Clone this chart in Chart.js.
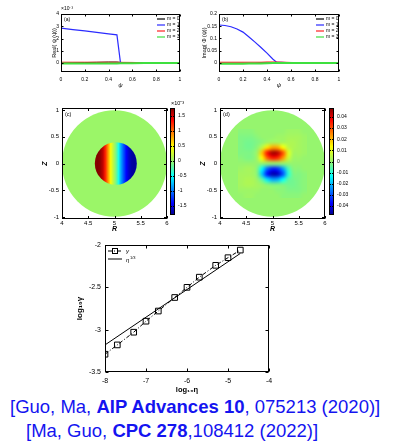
<!DOCTYPE html>
<html>
<head>
<meta charset="utf-8">
<script src="https://cdn.jsdelivr.net/npm/chart.js@4.4.1/dist/chart.umd.min.js"></script>
<style>
body { margin: 0; width: 396px; height: 444px; background: #fff; position: relative; overflow: hidden; font-family: 'Liberation Sans', Arial, sans-serif; }
canvas { position: absolute; }
.ref { position: absolute; color: #1414f0; font-size: 18.5px; white-space: nowrap; }
</style>
</head>
<body>
<canvas id="pa"></canvas>
<canvas id="pb"></canvas>
<canvas id="pc"></canvas>
<canvas id="cbc"></canvas>
<canvas id="pd"></canvas>
<canvas id="cbd"></canvas>
<canvas id="pe"></canvas>
<div class="ref" style="left:10px;top:396px">[Guo, Ma, <b>AIP Advances 10</b>, 075213 (2020)]</div>
<div class="ref" style="left:26px;top:420px">[Ma, Guo, <b>CPC 278</b>,108412 (2022)]</div>
<script>
// ---- data ----
// (a) Real part, units of 1e-3
let psiA = [0, 0.1, 0.2, 0.3, 0.4, 0.47, 0.5, 0.6, 0.7, 0.8, 0.9, 1];
let reM0 = [0, 0.02, 0.04, 0.06, 0.08, 0.08, 0.05, 0.01, 0, 0, 0, 0];
let reM1 = [2.85, 2.73, 2.62, 2.5, 2.38, 2.3, 0.02, 0, 0, 0, 0, 0];
let reM2 = [0.07, 0.07, 0.07, 0.07, 0.07, 0.07, 0.06, 0.05, 0.03, 0.01, 0, 0];
let reM3 = [-0.04, -0.04, -0.04, -0.04, -0.03, -0.03, -0.02, -0.01, 0, 0, 0, 0];

// (b) Imag part
let psiB = [0, 0.05, 0.1, 0.15, 0.2, 0.25, 0.3, 0.35, 0.4, 0.45, 0.48, 0.6, 0.7, 0.8, 0.9, 1];
let imM0 = [-0.001, -0.001, -0.001, -0.001, -0.001, -0.001, -0.001, 0, 0, 0, 0, 0, 0, 0, 0, 0];
let imM1 = [0.155, 0.153, 0.148, 0.139, 0.126, 0.106, 0.085, 0.063, 0.04, 0.015, 0.003, 0, 0, 0, 0, 0];
let imM2 = [0.003, 0.003, 0.003, 0.003, 0.003, 0.003, 0.003, 0.003, 0.004, 0.004, 0.004, 0.002, 0.001, 0, 0, 0];
let imM3 = [-0.003, -0.003, -0.003, -0.003, -0.003, -0.002, -0.002, -0.002, -0.001, 0, 0, 0, 0, 0, 0, 0];

let psiTicks = [0, 0.2, 0.4, 0.6, 0.8, 1];
let reTicks = [0, 1, 2, 3, 4];
let imTicks = [0, 0.05, 0.1, 0.15, 0.2];

// (c) inner-disk profile across R (units of 1e-3)
let cR = [4.625, 4.675, 4.725, 4.775, 4.825, 4.875, 4.925, 4.975, 5.025, 5.075, 5.125, 5.175, 5.225, 5.275, 5.325, 5.375, 5.425];
let cVal = [1.7, 1.75, 1.7, 1.55, 1.25, 0.85, 0.45, 0.15, -0.1, -0.45, -0.85, -1.15, -1.4, -1.6, -1.72, -1.75, -1.7];
let cTicks = [-1.5, -1, -0.5, 0, 0.5, 1, 1.5];

// (d) field on R x Z grid (units of 1e-3), rows from Z=0.6 down to Z=-0.6
let dR = [4.4, 4.5, 4.6, 4.7, 4.8, 4.9, 5.0, 5.1, 5.2, 5.3, 5.4, 5.5, 5.6];
let dZ = [0.6, 0.5, 0.4, 0.3, 0.2, 0.1, 0, -0.1, -0.2, -0.3, -0.4, -0.5, -0.6];
let dVal = [
  [-1, -1, -1, 0, 0, 0, 0, 0, 0, 1, 1, 1, 0],
  [-2, -2, -2, -1, 0, 0, 0, 1, 1, 2, 2, 2, 1],
  [-2, -3, -3, -2, -1, 1, 2, 2, 2, 3, 3, 2, 1],
  [-2, -3, -3, -1, 5, 16, 22, 21, 13, 5, 3, 2, 1],
  [-2, -2, -2, 1, 19, 36, 45, 43, 30, 10, 2, 2, 1],
  [-1, -2, -2, 1, 14, 28, 35, 33, 23, 7, 1, 1, 0],
  [0, 0, 0, 0, 0, 0, 0, 0, 0, 0, 0, 0, 0],
  [1, 2, 2, -1, -14, -28, -35, -33, -23, -7, -1, -1, 0],
  [2, 2, 2, -1, -19, -36, -45, -43, -30, -10, -2, -2, -1],
  [2, 3, 3, 1, -5, -16, -22, -21, -13, -5, -3, -2, -1],
  [2, 3, 3, 2, 1, -1, -2, -2, -2, -3, -3, -2, -1],
  [1, 1, 1, 1, 0, 0, 0, -1, -1, -2, -2, -2, -1],
  [0, 1, 1, 0, 0, 0, 0, 0, -1, -1, -1, -1, 0]
];
let dTicks = [-0.04, -0.03, -0.02, -0.01, 0, 0.01, 0.02, 0.03, 0.04];
let rTicks = [4, 4.5, 5, 5.5, 6];
let zTicks = [-1, -0.5, 0, 0.5, 1];

// (e) growth rate scaling
let logEta = [-8, -7.7, -7.3, -7, -6.7, -6.3, -6, -5.7, -5.3, -5, -4.7];
let logGamma = [-3.29, -3.18, -3.03, -2.9, -2.78, -2.62, -2.5, -2.38, -2.24, -2.15, -2.06];
let fitEta = [-8, -4.7];
let fitGamma = [-3.18, -2.1];
let etaTicks = [-8, -7, -6, -5, -4];
let gammaTicks = [-3.5, -3, -2.5, -2];

// ---- helpers ----
Chart.defaults.font.family = "'Liberation Sans', Arial, sans-serif";
Chart.defaults.color = '#000';

function place(id, area, pad) {
    let c = document.getElementById(id);
    c.width = area[2] - area[0] + pad[0] + pad[2];
    c.height = area[3] - area[1] + pad[1] + pad[3];
    c.style.left = (area[0] - pad[0]) + 'px';
    c.style.top = (area[1] - pad[1]) + 'px';
    return c;
}

function pts(xs, ys) {
    return xs.map((x, i) => ({x: x, y: ys[i]}));
}

// jet-like colour map, the middle a bit yellower like the figure
const stops = [
    [0, [0, 0, 140]], [0.11, [0, 0, 255]], [0.36, [0, 255, 255]],
    [0.5, [150, 245, 110]], [0.64, [255, 255, 0]], [0.89, [255, 0, 0]], [1, [128, 0, 0]]
];
function jet(t) {
    t = Math.min(1, Math.max(0, t));
    for (let i = 1; i < stops.length; i++) {
        if (t <= stops[i][0]) {
            let [t0, c0] = stops[i - 1], [t1, c1] = stops[i];
            let f = (t - t0) / (t1 - t0);
            return c0.map((c, k) => Math.round(c + f * (c1[k] - c)));
        }
    }
    return stops[stops.length - 1][1];
}
function jetCss(v, min, max) {
    let c = jet((v - min) / (max - min));
    return `rgb(${c[0]},${c[1]},${c[2]})`;
}

function axis(min, max, ticks, size, pad, fit, extra) {
    return Object.assign({
        type: 'linear', min: min, max: max,
        afterFit(s) { if (s.isHorizontal()) s.height = fit; else s.width = fit; },
        afterBuildTicks(s) { s.ticks = ticks.map(v => ({value: v})); },
        grid: {display: false, drawTicks: false},
        border: {display: false},
        ticks: {font: {size: size}, padding: pad, autoSkip: false, maxRotation: 0, callback: v => String(v)}
    }, extra);
}

// box round the plot with inward tick marks
function frame(len, withX) {
    return {
        id: 'frame',
        afterDraw(chart) {
            let {ctx, chartArea: a, scales} = chart;
            let l = Math.round(a.left) + 0.5, t = Math.round(a.top) + 0.5;
            let r = Math.round(a.right) - 0.5, b = Math.round(a.bottom) - 0.5;
            ctx.save();
            ctx.strokeStyle = '#000';
            ctx.lineWidth = 1;
            ctx.strokeRect(l, t, r - l, b - t);
            ctx.beginPath();
            if (withX) {
                scales.x.ticks.forEach(tk => {
                    let p = Math.round(scales.x.getPixelForValue(tk.value)) + 0.5;
                    ctx.moveTo(p, b); ctx.lineTo(p, b - len);
                    ctx.moveTo(p, t); ctx.lineTo(p, t + len);
                });
            }
            scales.y.ticks.forEach(tk => {
                let p = Math.round(scales.y.getPixelForValue(tk.value)) + 0.5;
                ctx.moveTo(l, p); ctx.lineTo(l + len, p);
                ctx.moveTo(r, p); ctx.lineTo(r - len, p);
            });
            ctx.stroke();
            ctx.restore();
        }
    };
}

function note(text, dx, dy, font) {
    return {
        id: 'note',
        afterDraw(chart) {
            let {ctx, chartArea: a} = chart;
            ctx.save();
            ctx.font = font;
            ctx.fillStyle = '#000';
            ctx.textBaseline = 'middle';
            ctx.fillText(text, a.left + dx, a.top + dy);
            ctx.restore();
        }
    };
}

function seriesLegend(fromRight, y0, dy) {
    return {
        id: 'mlegend',
        afterDraw(chart) {
            let {ctx, chartArea: a} = chart;
            ctx.save();
            ctx.font = "5px 'Liberation Sans', Arial";
            ctx.textBaseline = 'middle';
            chart.data.datasets.forEach((ds, i) => {
                let y = a.top + y0 + i * dy, x = a.right - fromRight;
                ctx.strokeStyle = ds.borderColor;
                ctx.lineWidth = 1.2;
                ctx.beginPath(); ctx.moveTo(x, y); ctx.lineTo(x + 8, y); ctx.stroke();
                ctx.fillStyle = '#000';
                ctx.fillText(ds.label, x + 10, y);
            });
            ctx.restore();
        }
    };
}

function lineChart(id, area, xs, series, yMin, yMax, yTicks, yTitle, yTitlePad, tag, expo) {
    let colors = ['#000000', '#2b2bff', '#ff2020', '#3ee03e'];
    let widths = [1, 1.2, 1, 2];
    let plugins = [frame(2, true), seriesLegend(23, 5, 6), note(tag, 3, 6, "5px 'Liberation Sans', Arial")];
    if (expo) plugins.push(note(expo, 0, -5, "5px 'Liberation Sans', Arial"));
    return new Chart(place(id, area, [33, 12, 10, 20]), {
        type: 'line',
        data: {
            datasets: series.map((s, i) => ({
                label: 'm = ' + i, data: pts(xs, s), borderColor: colors[i],
                borderWidth: widths[i], order: 3 - i, pointRadius: 0, tension: 0
            }))
        },
        options: {
            responsive: false, animation: false,
            layout: {padding: {top: 12, right: 10, left: 0, bottom: 0}},
            plugins: {legend: {display: false}, tooltip: {enabled: false}},
            scales: {
                x: axis(0, 1, psiTicks, 5, 5, 20, {title: {display: true, text: 'ψ', font: {size: 6, style: 'italic'}, padding: {top: 0, bottom: 3}}}),
                y: axis(yMin, yMax, yTicks, 5, 2, 33, {title: {display: true, text: yTitle, font: {size: 5.5}, padding: {top: yTitlePad, bottom: 0}}})
            }
        },
        plugins: plugins
    });
}

lineChart('pa', [61, 14, 180, 72], psiA, [reM0, reM1, reM2, reM3], -0.73, 4, reTicks, 'Real( ψ (ψ))', 23, '(a)', '×10⁻³');
lineChart('pb', [219, 14, 339, 72], psiB, [imM0, imM1, imM2, imM3], -0.037, 0.2, imTicks, 'Imag( Φ (ψ))', 15, '(b)', null);

// heat maps
function fieldPlugin(min, max, paint) {
    return {
        id: 'field',
        beforeDatasetsDraw(chart) {
            let {ctx, scales: {x, y}} = chart;
            let cx = x.getPixelForValue(5), cy = y.getPixelForValue(0);
            let rx = x.getPixelForValue(6) - cx, ry = cy - y.getPixelForValue(1);
            ctx.save();
            ctx.beginPath();
            ctx.ellipse(cx, cy, rx, ry, 0, 0, Math.PI * 2);
            ctx.fillStyle = jetCss(0, min, max);
            ctx.fill();
            ctx.clip();
            paint(ctx, x, y);
            ctx.restore();
        }
    };
}

function gridImage(rows, min, max) {
    let c = document.createElement('canvas');
    c.width = rows[0].length; c.height = rows.length;
    let g = c.getContext('2d');
    let img = g.createImageData(c.width, c.height);
    rows.forEach((row, j) => row.forEach((v, i) => {
        let col = jet((v - min) / (max - min));
        let k = 4 * (j * c.width + i);
        img.data[k] = col[0]; img.data[k + 1] = col[1]; img.data[k + 2] = col[2]; img.data[k + 3] = 255;
    }));
    g.putImageData(img, 0, 0);
    return c;
}

function heatChart(id, area, tag, plugin) {
    return new Chart(place(id, area, [30, 10, 6, 16]), {
        type: 'scatter',
        data: {datasets: [{data: []}]},
        options: {
            responsive: false, animation: false,
            layout: {padding: {top: 10, right: 6, left: 0, bottom: 0}},
            plugins: {legend: {display: false}, tooltip: {enabled: false}},
            scales: {
                x: axis(4, 6, rTicks, 6, 1, 16, {title: {display: true, text: 'R', font: {size: 7, style: 'italic', weight: 'bold'}, padding: {top: 0, bottom: 2}}}),
                y: axis(-1.04, 1.04, zTicks, 6, 3, 30, {title: {display: true, text: 'Z', font: {size: 7, style: 'italic', weight: 'bold'}, padding: {top: 9, bottom: 0}}})
            }
        },
        plugins: [plugin, frame(2.5, true), note(tag, 3, 6, "5.5px 'Liberation Sans', Arial")]
    });
}

function colorBar(id, area, min, max, ticks, expo) {
    let plugins = [{
        id: 'cbar',
        beforeDatasetsDraw(chart) {
            let {ctx, chartArea: a, scales: {y}} = chart;
            for (let p = Math.floor(a.top); p < a.bottom; p++) {
                ctx.fillStyle = jetCss(y.getValueForPixel(p + 0.5), min, max);
                ctx.fillRect(a.left, p, a.right - a.left, 1);
            }
        }
    }, frame(1.5, false)];
    if (expo) plugins.push(note(expo, 1, -5, "5.5px 'Liberation Sans', Arial"));
    return new Chart(place(id, area, [2, 12, 30, 2]), {
        type: 'scatter',
        data: {datasets: [{data: []}]},
        options: {
            responsive: false, animation: false,
            layout: {padding: {top: 12, right: 0, left: 2, bottom: 2}},
            plugins: {legend: {display: false}, tooltip: {enabled: false}},
            scales: {
                x: {display: false, min: 0, max: 1},
                y: axis(min, max, ticks, 5, 3, 30, {position: 'right'})
            }
        },
        plugins: plugins
    });
}

let cMin = -1.8, cMax = 1.75;
let cImg = gridImage([cVal], cMin, cMax);
heatChart('pc', [62, 108, 167, 219], '(c)', fieldPlugin(cMin, cMax, (ctx, x, y) => {
    let cx = x.getPixelForValue(5.025), cy = y.getPixelForValue(0);
    let rx = x.getPixelForValue(5.425) - cx, ry = cy - y.getPixelForValue(0.4);
    ctx.beginPath();
    ctx.ellipse(cx, cy, rx, ry, 0, 0, Math.PI * 2);
    ctx.clip();
    ctx.imageSmoothingEnabled = true;
    let x0 = x.getPixelForValue(cR[0] - 0.025), x1 = x.getPixelForValue(cR[cR.length - 1] + 0.025);
    ctx.drawImage(cImg, x0, cy - ry - 1, x1 - x0, 2 * ry + 2);
}));
colorBar('cbc', [170, 108, 175, 219], cMin, cMax, cTicks, '×10⁻³');

let dMin = -0.048, dMax = 0.048;
let dImg = gridImage(dVal.map(r => r.map(v => v / 1000)), dMin, dMax);
heatChart('pd', [220, 108, 325, 219], '(d)', fieldPlugin(dMin, dMax, (ctx, x, y) => {
    ctx.imageSmoothingEnabled = true;
    ctx.imageSmoothingQuality = 'high';
    let x0 = x.getPixelForValue(dR[0] - 0.05), x1 = x.getPixelForValue(dR[dR.length - 1] + 0.05);
    let y0 = y.getPixelForValue(dZ[0] + 0.05), y1 = y.getPixelForValue(dZ[dZ.length - 1] - 0.05);
    ctx.drawImage(dImg, x0, y0, x1 - x0, y1 - y0);
}));
colorBar('cbd', [329, 108, 334, 219], dMin, dMax, dTicks, null);

// (e) log-log scaling
new Chart(place('pe', [105, 245, 269, 372], [30, 10, 12, 24]), {
    type: 'scatter',
    data: {
        datasets: [{
            label: 'γ', data: pts(logEta, logGamma), showLine: true,
            borderColor: '#000', borderWidth: 1, borderDash: [4, 2, 1, 2],
            pointStyle: 'rect', pointRadius: 4, pointBorderColor: '#000',
            pointBackgroundColor: 'rgba(0,0,0,0)', pointBorderWidth: 1
        }, {
            label: 'η^1/3', data: pts(fitEta, fitGamma), showLine: true,
            borderColor: '#000', borderWidth: 1, pointRadius: 0
        }]
    },
    options: {
        responsive: false, animation: false,
        layout: {padding: {top: 10, right: 12, left: 0, bottom: 0}},
        plugins: {legend: {display: false}, tooltip: {enabled: false}},
        scales: {
            x: axis(-8, -4, etaTicks, 7, 5, 24, {title: {display: true, text: 'log₁₀η', font: {size: 7.5, weight: 'bold'}, padding: {top: 0, bottom: 2}}}),
            y: axis(-3.5, -2, gammaTicks, 7, 4, 30, {title: {display: true, text: 'log₁₀γ', font: {size: 8, weight: 'bold'}, padding: {top: 0, bottom: 0}}})
        }
    },
    plugins: [frame(3, true), {
        id: 'elegend',
        afterDraw(chart) {
            let {ctx, chartArea: a} = chart;
            let x = a.left + 3, y1 = a.top + 6, y2 = a.top + 14;
            ctx.save();
            ctx.strokeStyle = '#000';
            ctx.lineWidth = 1;
            ctx.setLineDash([4, 2, 1, 2]);
            ctx.beginPath(); ctx.moveTo(x, y1); ctx.lineTo(x + 14, y1); ctx.stroke();
            ctx.setLineDash([]);
            ctx.strokeRect(x + 4.5, y1 - 2.5, 5, 5);
            ctx.beginPath(); ctx.moveTo(x, y2); ctx.lineTo(x + 14, y2); ctx.stroke();
            ctx.fillStyle = '#000';
            ctx.textBaseline = 'middle';
            ctx.font = "italic 6px 'Liberation Sans', Arial";
            ctx.fillText('γ', x + 18, y1);
            ctx.fillText('η', x + 18, y2 + 1);
            ctx.font = "4px 'Liberation Sans', Arial";
            ctx.fillText('1/3', x + 22, y2 - 1.5);
            ctx.restore();
        }
    }]
});
</script>
</body>
</html>
